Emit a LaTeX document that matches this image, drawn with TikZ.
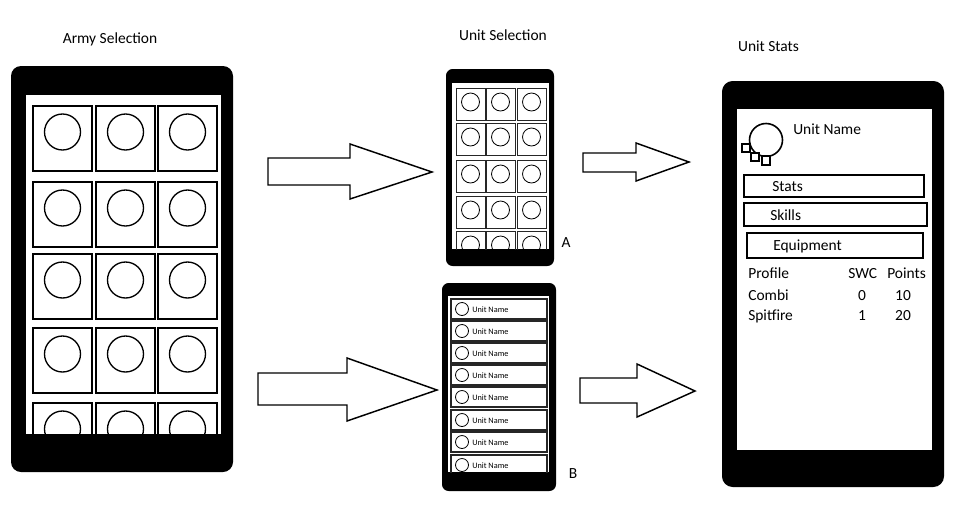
\documentclass[tikz,border=0pt]{standalone}
\usepackage{fontspec}
\setmainfont{Carlito}
\begin{document}
\begin{tikzpicture}[x=0.75pt,y=-0.75pt,
  phonebody/.style={fill=black},
  screenarea/.style={fill=white},
  bigcell/.style={draw=black,line width=1.5pt},
  bigring/.style={draw=black,line width=1pt},
  smallcell/.style={draw=black!85,line width=0.7pt},
  smallring/.style={draw=black,line width=0.6pt},
  listrow/.style={draw=black!85,line width=0.9pt},
  statbox/.style={draw=black,line width=1.5pt},
  tinysq/.style={draw=black,fill=white,line width=1.3pt},
  blockarrow/.style={draw=black,fill=white,line width=1.1pt,line join=miter},
  title/.style={font=\fontsize{11.6pt}{13pt}\selectfont,inner sep=0pt,anchor=base},
  lefttext/.style={font=\fontsize{11.6pt}{13pt}\selectfont,inner sep=0pt,anchor=base west},
  midtext/.style={font=\fontsize{11.6pt}{13pt}\selectfont,inner sep=0pt,anchor=base},
  rowtext/.style={font=\fontsize{6.2pt}{7pt}\selectfont,inner sep=0pt,anchor=base west}
]
\useasboundingbox (0,0) rectangle (963,511);

% ---------- titles ----------
\node[title] (tArmy) at (110,43) {Army Selection};
\node[title] (tUnitSel) at (503,40) {Unit Selection};
\node[title] (tUnitStats) at (768.5,51) {Unit Stats};

% ---------- left phone ----------
\fill[phonebody,rounded corners=7.5pt] (11,66) rectangle (233,472);
\fill[screenarea] (26,95) rectangle (221,434);
\begin{scope}
\clip (26,95) rectangle (221,434);
\foreach \yy in {106,182,254,328,403}{
  \foreach \xx in {33,96,158}{
    \draw[bigcell] (\xx,\yy) rectangle ++(59,65);
    \draw[bigring] (\xx+29.5,\yy+26) circle[radius=18];
  }
}
\end{scope}

% ---------- arrows ----------
\draw[blockarrow] (268,158) -- (350,158) -- (350,144) -- (432,172) -- (350,199) -- (350,185) -- (268,185) -- cycle;
\draw[blockarrow] (258,373) -- (347,373) -- (347,358) -- (437,390) -- (347,421) -- (347,405) -- (258,405) -- cycle;
\draw[blockarrow] (583,153) -- (636,153) -- (636,143) -- (689,162) -- (636,181) -- (636,172) -- (583,172) -- cycle;
\draw[blockarrow] (580,378) -- (637,378) -- (637,364) -- (695,391) -- (637,417) -- (637,403) -- (580,403) -- cycle;

% ---------- middle phone A ----------
\fill[phonebody,rounded corners=5pt] (446,69) rectangle (554,266);
\fill[screenarea] (452,83) rectangle (549,249);
\begin{scope}
\clip (452,83) rectangle (549,249);
\foreach \yy in {88,123,160,196,231}{
  \foreach \xx in {456,486,517}{
    \draw[smallcell] (\xx,\yy) rectangle ++(29,32);
    \draw[smallring] (\xx+14.5,\yy+14) circle[radius=9];
  }
}
\end{scope}
\node[midtext] (labA) at (566,247) {A};

% ---------- middle phone B ----------
\fill[phonebody,rounded corners=5pt] (442,283) rectangle (556,491);
\fill[screenarea] (448,296) rectangle (549,472);
\begin{scope}
\clip (448,296) rectangle (549,472);
\foreach \yy [count=\k] in {299,321,343,365,387,410,432,455}{
  \draw[listrow] (451,\yy) rectangle (547,\yy+20);
  \draw[smallring] (462,\yy+10) circle[radius=6.5];
  \node[rowtext] (rowname\k) at (472,\yy+13) {Unit Name};
}
\end{scope}
\node[midtext] (labB) at (573,478) {B};

% ---------- right phone ----------
\fill[phonebody,rounded corners=8pt] (722,81) rectangle (944,487);
\fill[screenarea] (737,109) rectangle (932,450);
\draw[line width=1.2pt] (766,140) circle[radius=16.5];
\draw[tinysq] (742,144) rectangle (750,152);
\draw[tinysq] (751,153) rectangle (759,161);
\draw[tinysq] (762,156) rectangle (770,165);
\node[lefttext] (uname) at (793,134) {Unit Name};

\draw[statbox] (744,175) rectangle (924,197);
\node[lefttext] (tStats) at (772,191) {Stats};
\draw[statbox] (744,203) rectangle (927,226);
\node[lefttext] (tSkills) at (770,220.5) {Skills};
\draw[statbox] (747,233) rectangle (923,258);
\node[lefttext] (tEquip) at (773,250) {Equipment};

\node[lefttext] (hProfile) at (748,278) {Profile};
\node[lefttext] (hSWC) at (848,278) {SWC};
\node[lefttext] (hPoints) at (887,278) {Points};
\node[lefttext] (rCombi) at (748,300) {Combi};
\node[midtext] (rCombiSWC) at (862,300) {0};
\node[midtext] (rCombiPts) at (903,300) {10};
\node[lefttext] (rSpit) at (748,320) {Spitfire};
\node[midtext] (rSpitSWC) at (862,320) {1};
\node[midtext] (rSpitPts) at (903,320) {20};
\end{tikzpicture}
\end{document}
